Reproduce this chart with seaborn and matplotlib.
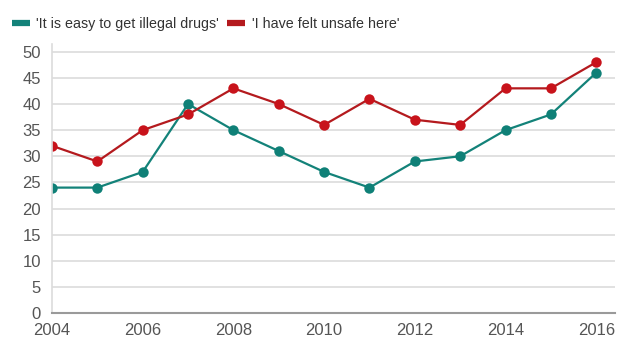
import matplotlib
matplotlib.use("Agg")
import matplotlib.pyplot as plt
import seaborn as sns
import pandas as pd
from matplotlib.lines import Line2D

years = list(range(2004, 2017))
drugs = [24, 24, 27, 40, 35, 31, 27, 24, 29, 30, 35, 38, 46]
unsafe = [32, 29, 35, 38, 43, 40, 36, 41, 37, 36, 43, 43, 48]
series_names = ["'It is easy to get illegal drugs'", "'I have felt unsafe here'"]
colors = ["#138279", "#b41a1e"]
marker_colors = ["#0f8077", "#c8131b"]
y_ticks = list(range(0, 51, 5))
x_ticks = list(range(2004, 2017, 2))

df = pd.DataFrame({
    "year": years * 2,
    "value": drugs + unsafe,
    "series": [series_names[0]] * len(years) + [series_names[1]] * len(years),
})

sns.set_theme(style="white")
plt.rcParams["font.family"] = ["Liberation Sans", "DejaVu Sans"]

fig = plt.figure(figsize=(6.19, 3.38), dpi=100)
ax = fig.add_axes([0.084, 0.074, 0.91, 0.796])

sns.lineplot(data=df, x="year", y="value", hue="series", palette=colors,
             marker="o", markersize=7.5, linewidth=1.6, markeredgewidth=0,
             legend=False, ax=ax)
for line, mc in zip(ax.get_lines(), marker_colors):
    line.set_markerfacecolor(mc)

ax.set_xlim(2004, 2016.42)
ax.set_ylim(0, 51.5)
ax.set_yticks(y_ticks)
ax.set_xticks(x_ticks)
ax.set_xlabel("")
ax.set_ylabel("")
ax.grid(axis="y", color="#dcdcdc", linewidth=1.2)
ax.set_axisbelow(True)
for s in ["top", "right"]:
    ax.spines[s].set_visible(False)
ax.spines["left"].set_color("#dcdcdc")
ax.spines["left"].set_linewidth(1.2)
ax.spines["bottom"].set_color("#9a9a9a")
ax.spines["bottom"].set_linewidth(1.5)
ax.tick_params(axis="y", length=7, color="#dcdcdc", width=1.2, labelsize=12,
               labelcolor="#555555", pad=1)
ax.tick_params(axis="x", length=0, labelsize=12, labelcolor="#555555", pad=7)

handles = [Line2D([], [], color=c, linewidth=4.5, solid_capstyle="butt") for c in colors]
fig.legend(handles, series_names, loc="center left", bbox_to_anchor=(0.019, 0.93),
           ncol=2, frameon=False, fontsize=10.3, handlelength=1.25, handletextpad=0.45,
           columnspacing=0.6, borderpad=0, borderaxespad=0, labelcolor="#333333")

fig.savefig("out.png", dpi=100)
